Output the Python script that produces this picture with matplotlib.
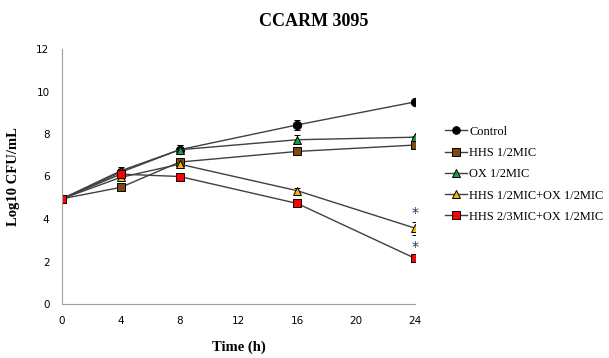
import matplotlib
matplotlib.use("Agg")
import matplotlib.pyplot as plt
from matplotlib.lines import Line2D

time_h = [0, 4, 8, 16, 24]
labels = ["Control", "HHS 1/2MIC", "OX 1/2MIC", "HHS 1/2MIC+OX 1/2MIC", "HHS 2/3MIC+OX 1/2MIC"]
control = [4.95, 6.2, 7.26, 8.43, 9.51]
hhs_half = [4.95, 5.49, 6.68, 7.18, 7.48]
ox_half = [4.95, 6.27, 7.26, 7.73, 7.85]
hhs_ox = [4.95, 5.96, 6.58, 5.33, 3.57]
hhs23_ox = [4.95, 6.11, 6.0, 4.73, 2.15]
control_err = [0.05, 0.15, 0.2, 0.25, 0.05]
hhs_half_err = [0.05, 0.05, 0.1, 0.05, 0.05]
ox_half_err = [0.05, 0.2, 0.2, 0.2, 0.05]
hhs_ox_err = [0.05, 0.1, 0.1, 0.12, 0.3]
hhs23_ox_err = [0.05, 0.15, 0.15, 0.15, 0.05]
star_y = [4.28, 2.68]  # positions of the significance asterisks at 24 h

series = [control, hhs_half, ox_half, hhs_ox, hhs23_ox]
errors = [control_err, hhs_half_err, ox_half_err, hhs_ox_err, hhs23_ox_err]
markers = ["o", "s", "^", "^", "s"]
colors = ["black", "#7b4a12", "#1a9a4a", "#f2b807", "#ff0000"]

fig = plt.figure(figsize=(6.09, 3.58), dpi=100)
ax = fig.add_axes([62 / 609, 1 - 304 / 358, 353 / 609, 255 / 358])

handles = []
for vals, err, m, c, lab in zip(series, errors, markers, colors, labels):
    ax.errorbar(time_h, vals, yerr=err, color="#404040", lw=1, marker=m, ms=6,
                mfc=c, mec="black", mew=0.7, ecolor="black", elinewidth=0.8,
                capsize=2.5)
    handles.append(Line2D([], [], color="#404040", lw=1, marker=m, ms=5.5,
                          mfc=c, mec="black", mew=0.7, label=lab))

# significance markers
for y in star_y:
    ax.text(24, y, "*", ha="center", va="center", fontsize=10, color="#1f3a5f")

ax.set_xlim(0, 24)
ax.set_ylim(0, 12)
ax.set_xticks([0, 4, 8, 12, 16, 20, 24])
ax.set_yticks([0, 2, 4, 6, 8, 10, 12])
ax.tick_params(length=0, labelsize=7.5, pad=9)
for s in ["top", "right"]:
    ax.spines[s].set_visible(False)
for s in ["left", "bottom"]:
    ax.spines[s].set_color("#a0a0a0")
ax.set_xlabel("Time (h)", fontfamily="Liberation Serif", fontweight="bold", fontsize=10.5, labelpad=10)
ax.set_ylabel("Log10 CFU/mL", fontfamily="Liberation Serif", fontweight="bold", fontsize=10.5, labelpad=12)
fig.text(314 / 609, 1 - 22 / 358, "CCARM 3095", ha="center", va="center",
         fontfamily="Liberation Serif", fontweight="bold", fontsize=13)

ax.legend(handles=handles, loc="upper left", bbox_to_anchor=(441 / 609, 1 - 122 / 358),
          bbox_transform=fig.transFigure, frameon=False, handlelength=1.8,
          handletextpad=0.2, labelspacing=0.75, borderaxespad=0, borderpad=0.3,
          prop={"family": "Liberation Serif", "size": 8.9})

fig.savefig("out.png", dpi=100)
